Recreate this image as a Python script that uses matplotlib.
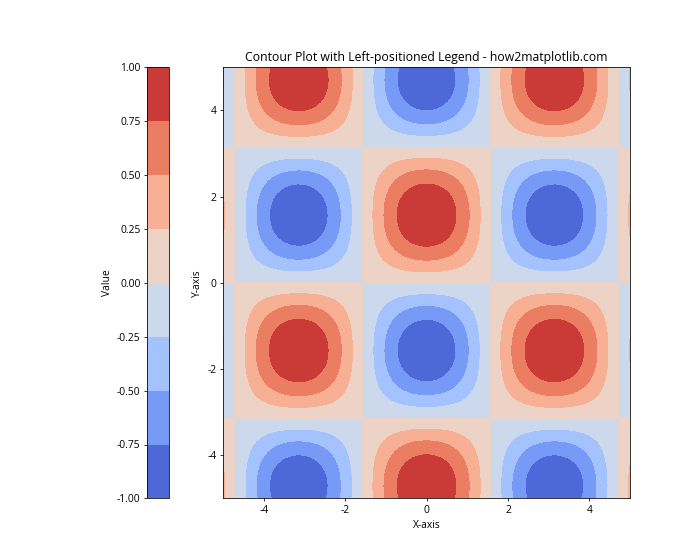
import numpy as np
import matplotlib
matplotlib.use("Agg")
import matplotlib.pyplot as plt

plt.rcParams['font.family'] = ['Open Sans', 'DejaVu Sans']
plt.rcParams['font.size'] = 10.5
plt.rcParams['axes.unicode_minus'] = False

x = np.linspace(-5, 5, 100)
y = np.linspace(-5, 5, 100)
X, Y = np.meshgrid(x, y)
Z = np.cos(X) * np.sin(Y)
levels = np.linspace(-1, 1, 9)

fig, ax = plt.subplots(figsize=(10, 8), dpi=70)
cs = ax.contourf(X, Y, Z, levels=levels, cmap='coolwarm')
cbar = fig.colorbar(cs, ax=ax, location='left')
cbar.set_label('Value')
ax.set_title('Contour Plot with Left-positioned Legend - how2matplotlib.com')
ax.set_xlabel('X-axis')
ax.set_ylabel('Y-axis')
fig.savefig('out.png', dpi=70)
